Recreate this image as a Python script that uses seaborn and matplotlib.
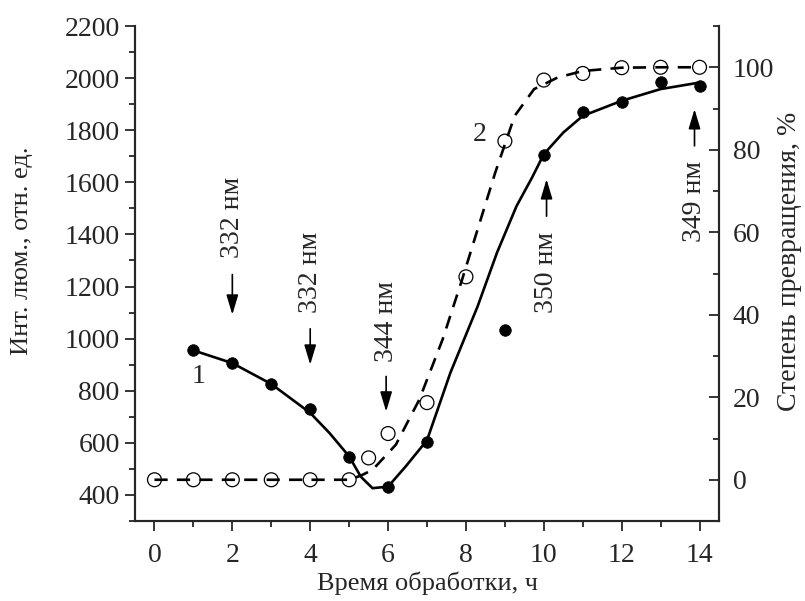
import matplotlib
matplotlib.use("Agg")
import matplotlib.pyplot as plt
from matplotlib.ticker import MultipleLocator
import seaborn as sns

# measured points, curve 1 (filled, left axis) and curve 2 (open, right axis)
t_lum = [1, 2, 3, 4, 5, 6, 7, 9, 10, 11, 12, 13, 14]
lum = [955, 906, 826, 731, 545, 432, 605, 1035, 1704, 1870, 1910, 1987, 1970]

t_conv = [0, 1, 2, 3, 4, 5, 5.5, 6, 7, 8, 9, 10, 11, 12, 13, 14]
conv = [0, 0, 0, 0, 0, 0, 5.3, 11.2, 18.7, 49.2, 82.1, 96.9, 98.5, 99.9, 100, 100]

# hand-drawn fit lines
fit1_t = [1, 2, 3, 4, 4.5, 5, 5.3, 5.6, 6, 6.45, 7, 7.6, 8.3, 8.8, 9.3, 9.7,
          10, 10.5, 11, 12, 13, 14]
fit1_v = [955, 906, 826, 715, 637, 548, 470, 426, 432, 509, 610, 869, 1124,
          1331, 1509, 1619, 1708, 1791, 1855, 1913, 1958, 1983]

fit2_t = [0, 5, 5.3, 5.6, 6.2, 6.8, 7.4, 7.9, 8.3, 8.75, 9.25, 9.75, 10.35,
          11, 12, 13, 14]
fit2_v = [0, 0, 1.0, 2.4, 8.5, 19.4, 34, 48.5, 60.7, 74.4, 88.2, 94.7, 97.5,
          99.1, 99.9, 100, 100]

# wavelength labels: (x, text, arrow tail, arrow head, text centre) in left-axis units
notes = [
    (2.0, "332 нм", 1246, 1092, 1465),
    (4.0, "332 нм", 1038, 900, 1254),
    (5.95, "344 нм", 855, 720, 1067),
    (10.07, "350 нм", 1470, 1612, 1256),
    (13.87, "349 нм", 1740, 1881, 1525),
]

sns.set_style("ticks")
plt.rcParams['font.family'] = ['Liberation Serif', 'DejaVu Serif']
plt.rcParams['font.size'] = 20

fig = plt.figure(figsize=(8.05, 6.01), dpi=100)
ax = fig.add_axes([0.1677, 0.1331, 0.7255, 0.8236])
ax2 = ax.twinx()

sns.lineplot(x=fit1_t, y=fit1_v, ax=ax, color='black', lw=1.9, sort=False)
sns.scatterplot(x=t_lum, y=lum, ax=ax, color='black', s=70, edgecolor='black',
                linewidth=0.5, zorder=5)

sns.lineplot(x=fit2_t, y=fit2_v, ax=ax2, color='black', lw=1.9, sort=False,
             linestyle=(0, (5, 3.5)))
sns.scatterplot(x=t_conv, y=conv, ax=ax2, facecolor='none', edgecolor='black',
                s=100, linewidth=0.9, zorder=5)

ax.set_xlim(-0.5, 14.5)
ax.set_ylim(300, 2200)
ax2.set_ylim(-10, 110)

ax.xaxis.set_major_locator(MultipleLocator(2))
ax.xaxis.set_minor_locator(MultipleLocator(1))
ax.yaxis.set_major_locator(MultipleLocator(200))
ax.yaxis.set_minor_locator(MultipleLocator(100))
ax.set_yticks(range(400, 2201, 200))
ax2.yaxis.set_major_locator(MultipleLocator(20))
ax2.yaxis.set_minor_locator(MultipleLocator(10))
ax2.set_yticks(range(0, 101, 20))

for a in (ax, ax2):
    a.spines['top'].set_visible(False)
    for s in a.spines.values():
        s.set_linewidth(1.5)
ax.tick_params(axis='both', which='major', direction='out', length=7, width=1.3,
               labelsize=20, pad=4)
ax.tick_params(axis='x', which='major', pad=9)
ax.tick_params(axis='both', which='minor', direction='out', length=4, width=1.3)
ax2.tick_params(axis='y', which='major', direction='in', length=7, width=1.3,
                labelsize=20, pad=10)
ax2.tick_params(axis='y', which='minor', direction='in', length=4, width=1.3)

ax.set_xlabel("Время обработки, ч", fontsize=19, labelpad=2)
ax.set_ylabel("Инт. люм., отн. ед.", fontsize=19)
ax2.set_ylabel("Степень превращения, %", fontsize=20)
ax.yaxis.set_label_coords(-0.175, 0.547)
ax2.yaxis.set_label_coords(1.1, 0.524)

ax.text(1.12, 855, "1", fontsize=20, ha='center', va='center')
ax.text(8.36, 1785, "2", fontsize=20, ha='center', va='center')

for x, label, tail, head, mid in notes:
    ax.annotate("", xy=(x, head), xytext=(x, tail),
                arrowprops=dict(arrowstyle='-|>,head_length=0.6,head_width=0.18',
                                color='black', lw=1.2,
                                mutation_scale=20, shrinkA=0, shrinkB=0))
    ax.text(x, mid, label, rotation=90, ha='center', va='center', fontsize=20)

fig.savefig("out.png", dpi=100)
